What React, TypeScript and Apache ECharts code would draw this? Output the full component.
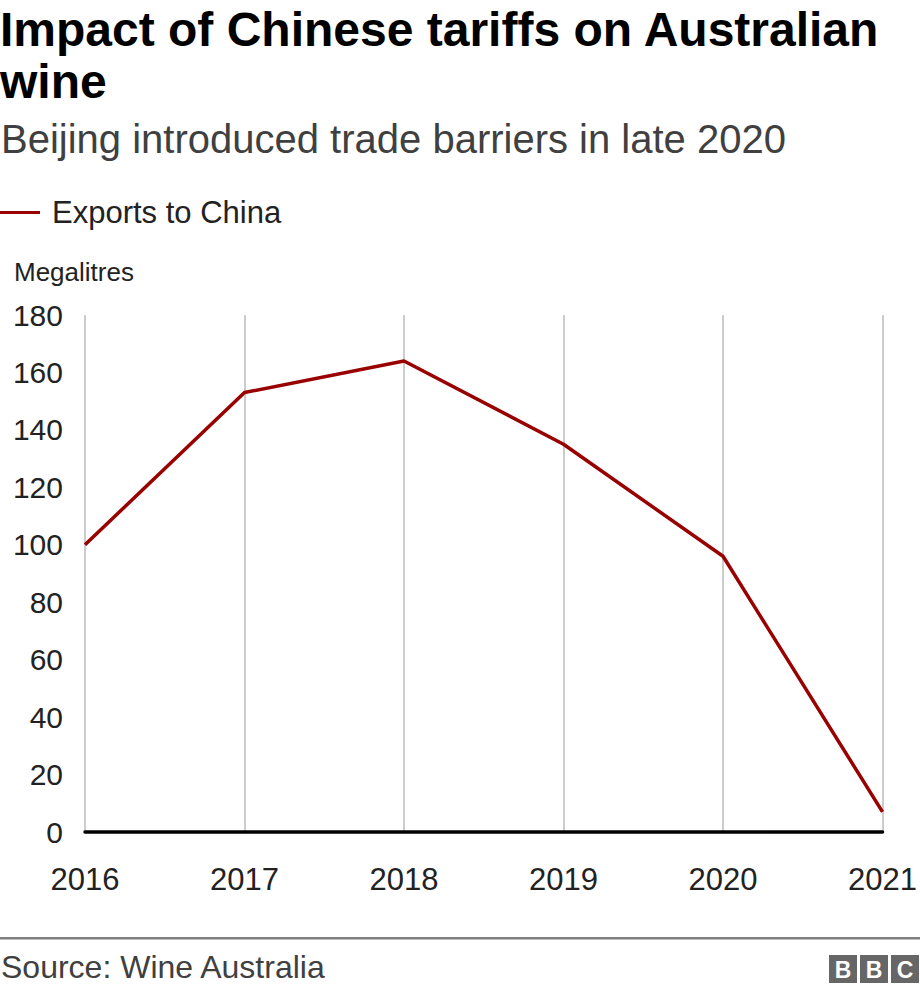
import React, { useEffect, useRef } from "react";
import * as echarts from "echarts";

const years = ["2016", "2017", "2018", "2019", "2020", "2021"];
const exportsToChina = [100, 153, 164, 135, 96, 7];
const seriesName = "Exports to China";
const titleLines = ["Impact of Chinese tariffs on Australian", "wine"];
const subtitle = "Beijing introduced trade barriers in late 2020";
const unitLabel = "Megalitres";
const sourceText = "Source: Wine Australia";

const FONT = "'Liberation Sans', Arial, Helvetica, sans-serif";
const RED = "#990000";

export default function App() {
  const ref = useRef<HTMLDivElement>(null);
  useEffect(() => {
    if (!ref.current) return;
    const chart = echarts.init(ref.current, undefined, { renderer: "svg" });
    const bbcBoxes = ["B", "B", "C"].map((ch, i) => ({
      type: "group",
      x: 829 + i * 31,
      y: 955,
      children: [
        { type: "rect", shape: { x: 0, y: 0, width: 28, height: 28 }, style: { fill: "#666666" } },
        {
          type: "text",
          x: 14,
          y: 15,
          style: { text: ch, fill: "#ffffff", font: `bold 23px ${FONT}`, align: "center", verticalAlign: "middle" },
        },
      ],
    }));
    chart.setOption({
      animation: false,
      backgroundColor: "#ffffff",
      textStyle: { fontFamily: FONT },
      legend: {
        show: true,
        left: 0,
        top: 197,
        padding: 0,
        icon: "path://M0,0 L40,0 L40,3 L0,3 Z",
        itemWidth: 40,
        itemHeight: 3,
        selectedMode: false,
        textStyle: { fontSize: 31, color: "#222222", fontFamily: FONT, padding: [0, 0, 0, 7] },
        data: [seriesName],
      },
      grid: { left: 85, right: 36, top: 315, bottom: 162, containLabel: false },
      xAxis: {
        type: "category",
        data: years,
        boundaryGap: false,
        axisLine: { show: true, lineStyle: { color: "#000000", width: 3.5 } },
        axisTick: { show: false },
        splitLine: { show: true, lineStyle: { color: "#cccccc", width: 2 } },
        axisLabel: { fontSize: 31, color: "#222222", margin: 32, fontFamily: FONT, showMinLabel: true, showMaxLabel: true, interval: 0 },
      },
      yAxis: {
        type: "value",
        min: 0,
        max: 180,
        interval: 20,
        axisLine: { show: false },
        axisTick: { show: false },
        splitLine: { show: false },
        axisLabel: { fontSize: 30, color: "#222222", margin: 22, fontFamily: FONT },
      },
      series: [
        {
          name: seriesName,
          type: "line",
          data: exportsToChina,
          symbol: "none",
          lineStyle: { color: RED, width: 3.5 },
          itemStyle: { color: RED },
          z: 5,
        },
      ],
      graphic: [
        {
          type: "text",
          x: 0,
          y: 29,
          style: { text: titleLines[0], fill: "#000000", font: `bold 48px ${FONT}`, verticalAlign: "middle" },
        },
        {
          type: "text",
          x: 0,
          y: 81,
          style: { text: titleLines[1], fill: "#000000", font: `bold 48px ${FONT}`, verticalAlign: "middle" },
        },
        {
          type: "text",
          x: 1,
          y: 139,
          style: { text: subtitle, fill: "#404040", font: `40px ${FONT}`, verticalAlign: "middle" },
        },
        {
          type: "text",
          x: 14,
          y: 272,
          style: { text: unitLabel, fill: "#222222", font: `26px ${FONT}`, verticalAlign: "middle" },
        },
        {
          type: "rect",
          shape: { x: 0, y: 937, width: 920, height: 2.5 },
          style: { fill: "#7f7f7f" },
        },
        {
          type: "text",
          x: 1,
          y: 967,
          style: { text: sourceText, fill: "#404040", font: `32px ${FONT}`, verticalAlign: "middle" },
        },
        ...bbcBoxes,
      ],
    });
    return () => chart.dispose();
  }, []);
  return (
    <div
      ref={ref}
      style={{ position: "fixed", left: 0, top: 0, width: 920, height: 994, background: "#fff" }}
    />
  );
}
